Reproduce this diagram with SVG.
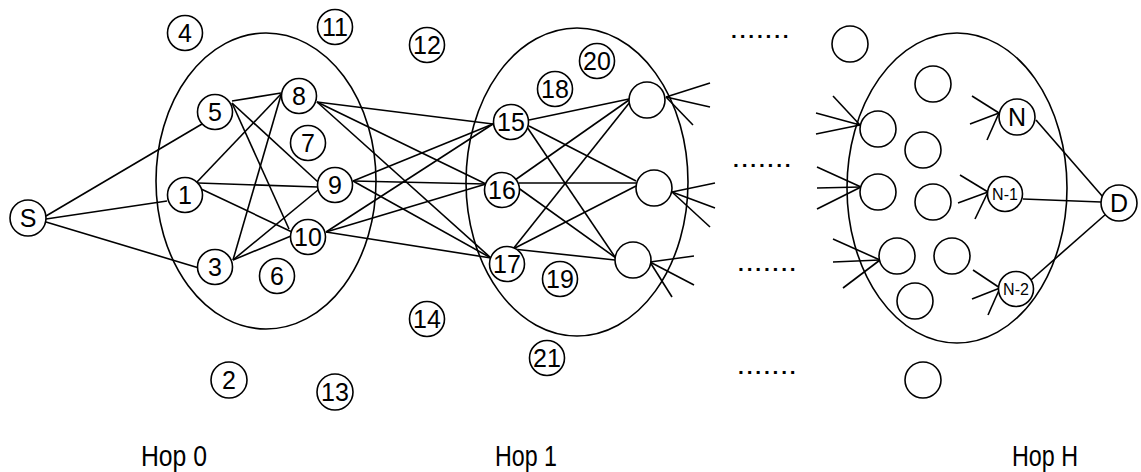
<svg xmlns="http://www.w3.org/2000/svg" width="1141" height="472" viewBox="0 0 1141 472">
<style>
.hop{fill:none;stroke:#000;stroke-width:1.6}
.e line{stroke:#000;stroke-width:1.6}
.n circle{fill:#fff;stroke:#000;stroke-width:1.6}
.n text{font-family:"Liberation Sans",Arial,sans-serif;font-size:25px;text-anchor:middle;fill:#000}
.n text.s{font-size:16px}
.dots{font-family:"Liberation Sans",Arial,sans-serif;font-size:21px;font-weight:bold;letter-spacing:2.8px;fill:#000}
.lbl{font-family:"Liberation Sans",Arial,sans-serif;font-size:29px;fill:#000}
</style>
<rect width="1141" height="472" fill="#fff"/>
<g id="hops">
<ellipse class="hop" cx="266" cy="181" rx="110" ry="148"/>
<ellipse class="hop" cx="577" cy="182" rx="111" ry="154"/>
<ellipse class="hop" cx="957" cy="188" rx="110" ry="155"/>
</g>
<g id="connectors" class="e">
<line x1="46" y1="216" x2="202" y2="124"/>
<line x1="46" y1="219" x2="167" y2="201"/>
<line x1="46" y1="222" x2="199" y2="268"/>
<line x1="232" y1="101" x2="281" y2="93"/>
<line x1="232" y1="103" x2="318" y2="182"/>
<line x1="232" y1="103" x2="289" y2="229"/>
<line x1="197" y1="182" x2="281" y2="94"/>
<line x1="198" y1="183" x2="318" y2="187"/>
<line x1="199" y1="188" x2="292" y2="232"/>
<line x1="233" y1="260" x2="281" y2="95"/>
<line x1="233" y1="260" x2="318" y2="190"/>
<line x1="233" y1="260" x2="291" y2="236"/>
<line x1="317" y1="102" x2="493" y2="124"/>
<line x1="317" y1="102" x2="486" y2="184"/>
<line x1="317" y1="102" x2="491" y2="258"/>
<line x1="353" y1="181" x2="493" y2="124"/>
<line x1="353" y1="181" x2="486" y2="184"/>
<line x1="353" y1="181" x2="491" y2="258"/>
<line x1="326" y1="232" x2="493" y2="124"/>
<line x1="326" y1="232" x2="486" y2="184"/>
<line x1="326" y1="232" x2="491" y2="258"/>
<line x1="529" y1="120" x2="629" y2="99"/>
<line x1="529" y1="126" x2="636" y2="181"/>
<line x1="527" y1="127" x2="615" y2="257"/>
<line x1="515" y1="180" x2="629" y2="100"/>
<line x1="519" y1="183" x2="636" y2="183"/>
<line x1="517" y1="187" x2="616" y2="258"/>
<line x1="513" y1="249" x2="630" y2="102"/>
<line x1="513" y1="249" x2="636" y2="186"/>
<line x1="513" y1="249" x2="615" y2="260"/>
<line x1="666" y1="97" x2="710" y2="83"/>
<line x1="666" y1="97" x2="710" y2="107"/>
<line x1="666" y1="97" x2="693" y2="125"/>
<line x1="672" y1="192" x2="715" y2="183"/>
<line x1="672" y1="192" x2="715" y2="208"/>
<line x1="672" y1="192" x2="710" y2="227"/>
<line x1="650" y1="262" x2="694" y2="256"/>
<line x1="650" y1="262" x2="694" y2="285"/>
<line x1="650" y1="262" x2="672" y2="297"/>
<line x1="833" y1="96" x2="860" y2="125"/>
<line x1="816" y1="113" x2="860" y2="125"/>
<line x1="816" y1="134" x2="860" y2="125"/>
<line x1="817" y1="167" x2="861" y2="187"/>
<line x1="817" y1="188" x2="861" y2="187"/>
<line x1="817" y1="209" x2="861" y2="187"/>
<line x1="833" y1="239" x2="880" y2="260"/>
<line x1="833" y1="262" x2="880" y2="260"/>
<line x1="843" y1="288" x2="880" y2="260"/>
<line x1="972" y1="96" x2="999" y2="113"/>
<line x1="970" y1="124" x2="999" y2="113"/>
<line x1="987" y1="140" x2="999" y2="113"/>
<line x1="960" y1="175" x2="988" y2="192"/>
<line x1="958" y1="203" x2="988" y2="192"/>
<line x1="975" y1="219" x2="988" y2="192"/>
<line x1="973" y1="270" x2="1000" y2="288"/>
<line x1="972" y1="299" x2="1000" y2="288"/>
<line x1="988" y1="315" x2="1000" y2="288"/>
<line x1="1036" y1="120" x2="1103" y2="197"/>
<line x1="1023" y1="199" x2="1101" y2="202"/>
<line x1="1031" y1="280" x2="1106" y2="214"/>
</g>
<g id="node-S" class="n"><circle cx="28" cy="218" r="18"/><text x="28" y="227">S</text></g>
<g id="node-4" class="n"><circle cx="185" cy="33" r="17.5"/><text x="185" y="42">4</text></g>
<g id="node-11" class="n"><circle cx="335" cy="27" r="17.5"/><text x="335" y="36">11</text></g>
<g id="node-5" class="n"><circle cx="215" cy="112" r="17.5"/><text x="215" y="121">5</text></g>
<g id="node-8" class="n"><circle cx="299" cy="96" r="17.5"/><text x="299" y="105">8</text></g>
<g id="node-7" class="n"><circle cx="308" cy="143" r="17.5"/><text x="308" y="152">7</text></g>
<g id="node-1" class="n"><circle cx="185" cy="195" r="17.5"/><text x="185" y="204">1</text></g>
<g id="node-9" class="n"><circle cx="335" cy="185" r="17.5"/><text x="335" y="194">9</text></g>
<g id="node-10" class="n"><circle cx="308" cy="237" r="17.5"/><text x="308" y="246">10</text></g>
<g id="node-3" class="n"><circle cx="215" cy="267" r="17.5"/><text x="215" y="276">3</text></g>
<g id="node-6" class="n"><circle cx="277" cy="276" r="17.5"/><text x="277" y="285">6</text></g>
<g id="node-2" class="n"><circle cx="229" cy="380" r="18"/><text x="229" y="389">2</text></g>
<g id="node-13" class="n"><circle cx="335" cy="392" r="18"/><text x="335" y="401">13</text></g>
<g id="node-12" class="n"><circle cx="427" cy="45" r="17.5"/><text x="427" y="54">12</text></g>
<g id="node-20" class="n"><circle cx="597" cy="61" r="17.5"/><text x="597" y="70">20</text></g>
<g id="node-18" class="n"><circle cx="555" cy="89" r="17.5"/><text x="555" y="98">18</text></g>
<g id="node-15" class="n"><circle cx="511" cy="122" r="17.5"/><text x="511" y="131">15</text></g>
<g id="node-16" class="n"><circle cx="502" cy="190" r="17.5"/><text x="502" y="199">16</text></g>
<g id="node-17" class="n"><circle cx="507" cy="264" r="17.5"/><text x="507" y="273">17</text></g>
<g id="node-19" class="n"><circle cx="560" cy="279" r="17.5"/><text x="560" y="288">19</text></g>
<g id="node-14" class="n"><circle cx="427" cy="319" r="17.5"/><text x="427" y="328">14</text></g>
<g id="node-21" class="n"><circle cx="547" cy="358" r="17.5"/><text x="547" y="367">21</text></g>
<g id="node-a1" class="n"><circle cx="647" cy="100" r="18"/></g>
<g id="node-b1" class="n"><circle cx="654" cy="188" r="18"/></g>
<g id="node-c1" class="n"><circle cx="633" cy="260" r="18"/></g>
<g id="node-h1" class="n"><circle cx="850" cy="44" r="18"/></g>
<g id="node-h2" class="n"><circle cx="933" cy="84" r="18"/></g>
<g id="node-h3" class="n"><circle cx="878" cy="129" r="18"/></g>
<g id="node-h4" class="n"><circle cx="923" cy="150" r="18"/></g>
<g id="node-h5" class="n"><circle cx="878" cy="192" r="18"/></g>
<g id="node-h6" class="n"><circle cx="933" cy="202" r="18"/></g>
<g id="node-h7" class="n"><circle cx="897" cy="256" r="18"/></g>
<g id="node-h8" class="n"><circle cx="952" cy="256" r="18"/></g>
<g id="node-h9" class="n"><circle cx="915" cy="301" r="18"/></g>
<g id="node-h10" class="n"><circle cx="923" cy="380" r="18"/></g>
<g id="node-N" class="n"><circle cx="1017" cy="117" r="18"/><text x="1017" y="126">N</text></g>
<g id="node-N-1" class="n"><circle cx="1005" cy="194" r="17.5"/><text class="s" x="1005" y="200">N-1</text></g>
<g id="node-N-2" class="n"><circle cx="1016" cy="289" r="17.5"/><text class="s" x="1016" y="295">N-2</text></g>
<g id="node-D" class="n"><circle cx="1119" cy="203" r="18"/><text x="1119" y="212">D</text></g>
<g id="dots">
<text class="dots" x="731" y="38">.......</text>
<text class="dots" x="733" y="167">.......</text>
<text class="dots" x="738" y="271">.......</text>
<text class="dots" x="738" y="374">.......</text>
</g>
<g id="labels">
<text class="lbl" x="141" y="466" textLength="66" lengthAdjust="spacingAndGlyphs">Hop 0</text>
<text class="lbl" x="495" y="466" textLength="62" lengthAdjust="spacingAndGlyphs">Hop 1</text>
<text class="lbl" x="1012" y="466" textLength="66" lengthAdjust="spacingAndGlyphs">Hop H</text>
</g>
</svg>
